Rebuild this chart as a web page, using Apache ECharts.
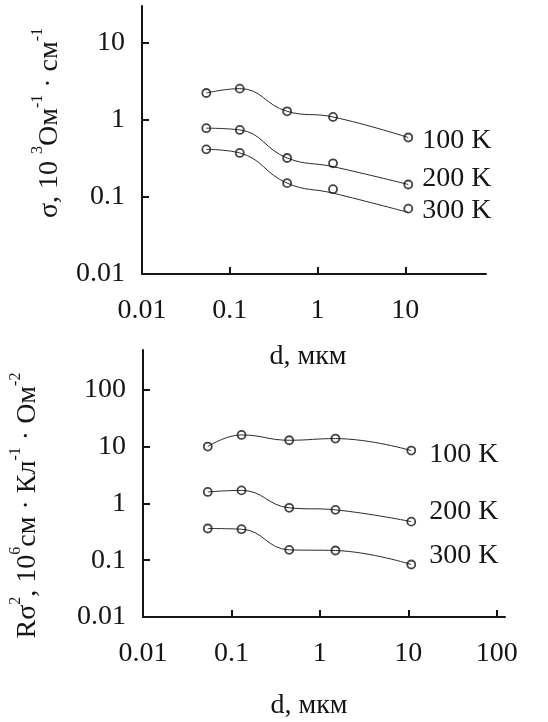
<!DOCTYPE html>
<html>
<head>
<meta charset="utf-8">
<script src="https://cdn.jsdelivr.net/npm/echarts@6/dist/echarts.min.js"></script>
<style>
html, body { margin: 0; padding: 0; background: #fff; }
#chart { width: 548px; height: 722px; }
</style>
</head>
<body>
<div id="chart"></div>
<script>
// film thickness d, мкм
var thickness = [0.054, 0.13, 0.45, 1.5, 10.8];
var temps = ['100 K', '200 K', '300 K'];

// top panel: sigma, 10^3 Ом^-1 см^-1 (measured points)
var sigma100 = [2.23, 2.54, 1.29, 1.09, 0.59];
var sigma200 = [0.78, 0.74, 0.32, 0.273, 0.145];
var sigma300 = [0.414, 0.372, 0.151, 0.126, 0.0705];
// hand drawn curves of the top panel (they miss some points)
var sigmaFit100 = [2.23, 2.54, 1.29, 1.09, 0.59];
var sigmaFit200 = [0.78, 0.74, 0.32, 0.247, 0.145];
var sigmaFit300 = [0.414, 0.372, 0.151, 0.112, 0.063];

// bottom panel: R*sigma^2, 10^6 см Кл^-1 Ом^-2
var rs100 = [10.0, 16.0, 12.9, 13.8, 8.5];
var rs200 = [1.59, 1.69, 0.835, 0.768, 0.477];
var rs300 = [0.361, 0.351, 0.152, 0.148, 0.084];

// tick labels
var xLabelsTop = [0.01, 0.1, 1, 10];
var yLabelsTop = [0.01, 0.1, 1, 10];
var xLabelsBottom = [0.01, 0.1, 1, 10, 100];
var yLabelsBottom = [0.01, 0.1, 1, 10, 100];

var font = 'Liberation Serif';
var ink = '#151515';
var fs = 28;

function pairs(ys) {
    return thickness.map(function (d, i) { return [d, ys[i]]; });
}

function logAxis(gridIndex, min, max, labels, extra) {
    var axis = {
        type: 'log',
        gridIndex: gridIndex,
        logBase: 10,
        min: min,
        max: max,
        axisLine: { show: true, lineStyle: { color: ink, width: 2 } },
        axisTick: {
            show: true,
            inside: true,
            length: 7,
            customValues: labels.slice(1),
            lineStyle: { color: ink, width: 2 }
        },
        axisLabel: {
            customValues: labels,
            color: ink,
            fontFamily: font,
            fontSize: fs,
            formatter: function (v) { return String(Number(v.toPrecision(3))); }
        },
        splitLine: { show: false },
        nameTextStyle: { color: ink, fontFamily: font, fontSize: fs }
    };
    for (var k in extra) {
        if (k === 'axisLabel') {
            for (var j in extra[k]) axis.axisLabel[j] = extra[k][j];
        } else if (k === 'nameTextStyle') {
            for (var n in extra[k]) axis.nameTextStyle[n] = extra[k][n];
        } else {
            axis[k] = extra[k];
        }
    }
    return axis;
}

var supRich = {
    m: { fontSize: fs, fontFamily: font, color: ink, lineHeight: 40 },
    s: { fontSize: 16, fontFamily: font, color: ink, lineHeight: 20, verticalAlign: 'top' }
};

function curve(name, xi, ys, off) {
    return {
        name: name,
        type: 'line',
        xAxisIndex: xi,
        yAxisIndex: xi,
        data: pairs(ys),
        smooth: 0.45,
        showSymbol: false,
        lineStyle: { color: '#2a2a2a', width: 1 },
        endLabel: {
            show: true,
            formatter: '{a}',
            color: ink,
            fontFamily: font,
            fontSize: fs,
            offset: off
        },
        silent: true
    };
}

function dots(name, xi, ys) {
    return {
        name: name,
        type: 'scatter',
        xAxisIndex: xi,
        yAxisIndex: xi,
        data: pairs(ys),
        symbol: 'circle',
        symbolSize: 8,
        itemStyle: { color: 'transparent', borderColor: ink, borderWidth: 1.8 },
        z: 3
    };
}

var myChart = echarts.init(document.getElementById('chart'));

var option = {
    animation: false,
    backgroundColor: '#fff',
    grid: [
        { left: 142, top: 6, width: 344, height: 268 },
        { left: 141, top: 350, width: 364, height: 267 }
    ],
    xAxis: [
        logAxis(0, 0.01, 83, xLabelsTop, {
            name: 'd, мкм', nameLocation: 'middle', nameGap: 69,
            axisLabel: { margin: 23 },
            nameTextStyle: { padding: [0, 12, 0, 0] }
        }),
        logAxis(1, 0.01, 124, xLabelsBottom, {
            name: 'd, мкм', nameLocation: 'middle', nameGap: 75,
            axisLabel: { margin: 23 },
            nameTextStyle: { padding: [0, 30, 0, 0] }
        })
    ],
    yAxis: [
        logAxis(0, 0.01, 30, yLabelsTop, {
            name: '{m|σ, 10 }{s|3}{m|Ом}{s|-1}{m| · см}{s|-1}',
            nameLocation: 'middle', nameRotate: 90, nameGap: 72,
            axisLabel: { margin: 17 },
            nameTextStyle: { rich: supRich, padding: [0, 0, 0, 34] }
        }),
        logAxis(1, 0.01, 500, yLabelsBottom, {
            name: '{m|Rσ}{s|2}{m|, 10}{s|6}{m|см · Кл}{s|-1}{m| · Ом}{s|-2}',
            nameLocation: 'middle', nameRotate: 90, nameGap: 95,
            axisLabel: { margin: 17 },
            nameTextStyle: { rich: supRich, padding: [0, 44, 0, 0] }
        })
    ],
    series: [
        curve(temps[0], 0, sigmaFit100, [6, 3]),
        curve(temps[1], 0, sigmaFit200, [6, -6]),
        curve(temps[2], 0, sigmaFit300, [6, -2]),
        dots(temps[0], 0, sigma100),
        dots(temps[1], 0, sigma200),
        dots(temps[2], 0, sigma300),
        curve(temps[0], 1, rs100, [10, 4]),
        curve(temps[1], 1, rs200, [10, -10]),
        curve(temps[2], 1, rs300, [10, -9]),
        dots(temps[0], 1, rs100),
        dots(temps[1], 1, rs200),
        dots(temps[2], 1, rs300)
    ]
};

myChart.setOption(option);
</script>
</body>
</html>
